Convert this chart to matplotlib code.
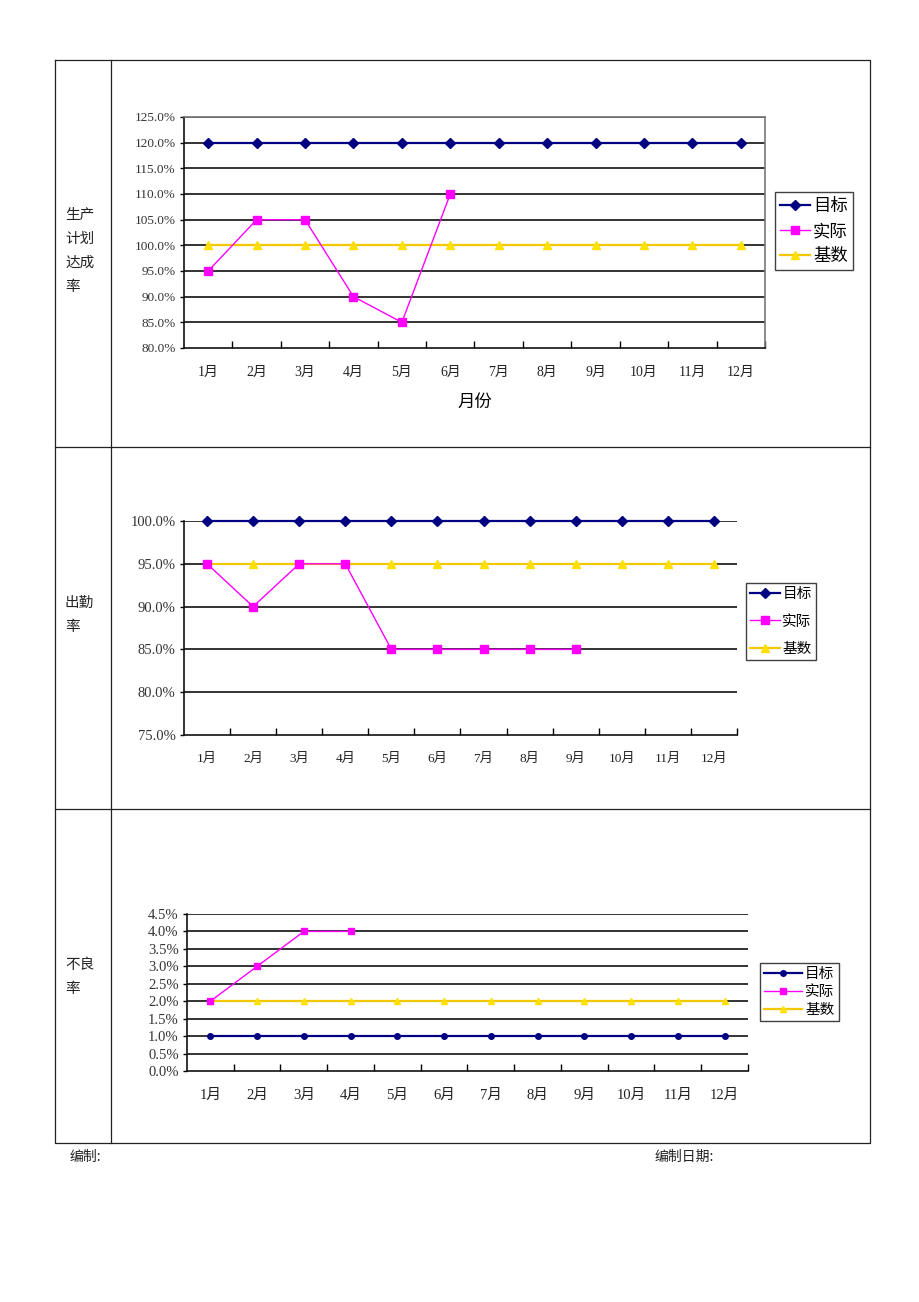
import matplotlib
matplotlib.use('Agg')
import matplotlib.pyplot as plt
import numpy as np

plt.rcParams['font.family'] = ['Liberation Serif', 'Noto Sans CJK SC', 'DejaVu Sans']

W, H = 920, 1302

# data
months = ['1月', '2月', '3月', '4月', '5月', '6月', '7月', '8月', '9月', '10月', '11月', '12月']
series_names = ['目标', '实际', '基数']

plan_target = [120.0] * 12
plan_actual = [95.0, 105.0, 105.0, 90.0, 85.0, 110.0]
plan_base = [100.0] * 12

att_target = [100.0] * 12
att_actual = [95.0, 90.0, 95.0, 95.0, 85.0, 85.0, 85.0, 85.0, 85.0]
att_base = [95.0] * 12

bad_target = [1.0] * 12
bad_actual = [2.0, 3.0, 4.0, 4.0]
bad_base = [2.0] * 12

row_labels = ['生产\n计划\n达成\n率', '出勤\n率', '不良\n率']

NAVY = '#000080'
MAGENTA = '#FF00FF'
YELLOW = '#F2C800'
YMARK = '#FFE000'
CJK = ['Noto Sans CJK SC', 'DejaVu Sans']


def rect(l, t, r, b):
    return [l / W, 1 - b / H, (r - l) / W, (b - t) / H]


fig = plt.figure(figsize=(W / 100, H / 100), dpi=100)

# table frame drawn in pixel coords
bg = fig.add_axes([0, 0, 1, 1])
bg.set_xlim(0, W)
bg.set_ylim(H, 0)
bg.axis('off')
lc = '#222222'
bg.plot([55, 870, 870, 55, 55], [60, 60, 1143, 1143, 60], color=lc, lw=0.9)
bg.plot([111, 111], [60, 1143], color=lc, lw=0.9)
bg.plot([55, 870], [447, 447], color=lc, lw=0.9)
bg.plot([55, 870], [809, 809], color=lc, lw=0.9)
for lab, y in zip(row_labels, [217, 605, 967]):
    bg.text(65, y - 9, lab, family=CJK, fontsize=10.5, va='top', ha='left',
            linespacing=1.9, color='#222222')
bg.text(70, 1157, '编制:', family=CJK, fontsize=10, va='center', color='#222222')
bg.text(655, 1157, '编制日期:', family=CJK, fontsize=10, va='center', color='#222222')


def draw_chart(box, target, actual, base, ylim, ystep, fmt, ms, ytick_fs, xtick_fs,
               leg_pos, leg_fs, leg_hl, leg_ls, top_border=False, marker1='D'):
    ax = fig.add_axes(rect(*box))
    x = np.arange(12)
    ms1 = ms * 0.85 if marker1 == 'D' else ms
    ax.plot(x[:len(target)], target, color=NAVY, lw=1.6, marker=marker1, ms=ms1,
            mfc=NAVY, mec=NAVY, label=series_names[0], zorder=4, clip_on=False)
    ax.plot(x[:len(actual)], actual, color=MAGENTA, lw=1.0, marker='s', ms=ms,
            mfc=MAGENTA, mec=MAGENTA, label=series_names[1], zorder=5, clip_on=False)
    ax.plot(x[:len(base)], base, color=YELLOW, lw=1.6, marker='^', ms=ms,
            mfc=YMARK, mec=YMARK, label=series_names[2], zorder=3, clip_on=False)
    ax.set_xlim(-0.5, 11.5)
    ax.set_ylim(*ylim)
    yt = np.arange(ylim[0], ylim[1] + ystep / 2, ystep)
    ax.set_yticks(yt)
    ax.set_yticklabels([fmt % v for v in yt], fontsize=ytick_fs, color='#333333')
    for v in yt[1:]:
        ax.axhline(v, color='#111111', lw=1.2, zorder=1)
    ax.set_xticks(x)
    ax.set_xticklabels(months, fontsize=xtick_fs, color='#222222')
    ax.set_xticks(np.arange(0.5, 11.6, 1.0), minor=True)
    ax.tick_params(axis='x', which='major', length=0, pad=13)
    ax.tick_params(axis='x', which='minor', direction='in', length=5, width=1)
    ax.tick_params(axis='y', length=3, width=1, pad=3)
    for s in ['left', 'bottom']:
        ax.spines[s].set_color('#111111')
        ax.spines[s].set_linewidth(1.2)
    if top_border:
        for s in ['top', 'right']:
            ax.spines[s].set_color('#777777')
            ax.spines[s].set_linewidth(1.2)
    else:
        ax.spines['top'].set_visible(False)
        ax.spines['right'].set_visible(False)
    ax.set_facecolor('none')
    leg = ax.legend(loc='upper left', bbox_to_anchor=(leg_pos[0] / W, 1 - leg_pos[1] / H),
                    bbox_transform=fig.transFigure, frameon=True, fancybox=False,
                    edgecolor='#111111', prop={'family': CJK, 'size': leg_fs},
                    handlelength=leg_hl, handletextpad=0.2, borderpad=0.3,
                    labelspacing=leg_ls, borderaxespad=0)
    leg.get_frame().set_linewidth(1.0)
    return ax


ax1 = draw_chart((184, 117, 765, 348), plan_target, plan_actual, plan_base,
                 (80, 125), 5, '%.1f%%', 5.5, 9.5, 10, (775, 192), 12.5, 1.7, 0.4,
                 top_border=True)
ax1.set_xlabel('月份', family=CJK, fontsize=12.5, labelpad=10)

ax2 = draw_chart((184, 521, 737, 735), att_target, att_actual, att_base,
                 (75, 100), 5, '%.1f%%', 6, 10.5, 9.5, (746, 583), 10.5, 2.0, 0.9)

ax3 = draw_chart((187, 914, 748, 1071), bad_target, bad_actual, bad_base,
                 (0, 4.5), 0.5, '%.1f%%', 4, 10.5, 10.5, (760, 963), 10.5, 2.6, 0.25,
                 marker1='o')

fig.savefig('out.png', dpi=100)
